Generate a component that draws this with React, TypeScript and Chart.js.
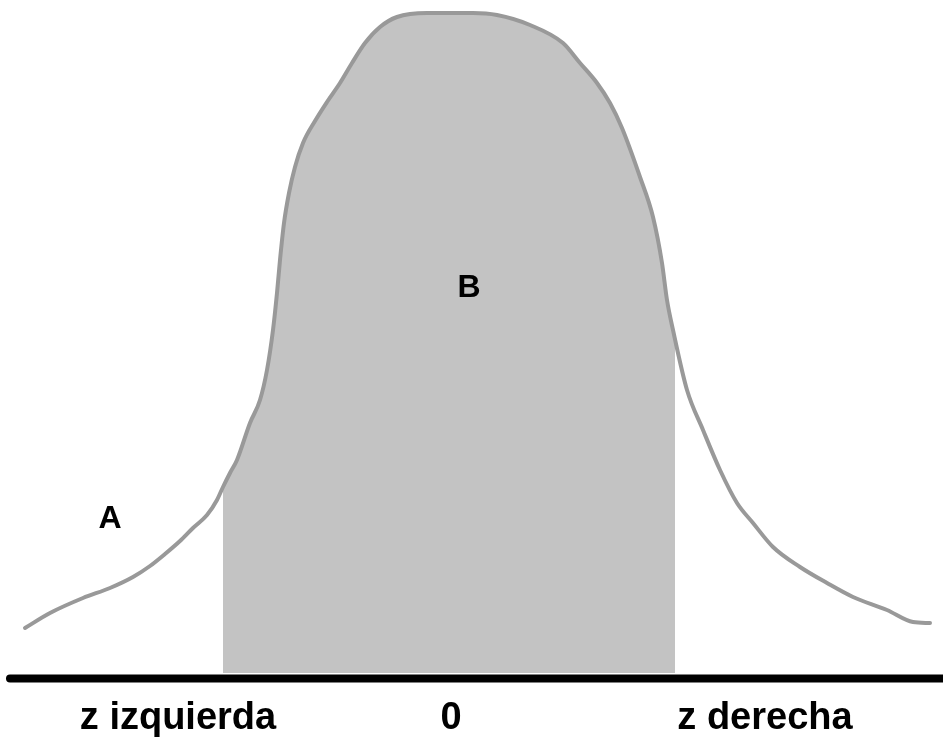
import React, { useEffect, useRef } from "react";
import { Chart, registerables } from "chart.js";

Chart.register(...registerables);

// Bell curve: horizontal position and height above the baseline
const curveX = [25, 50, 83, 110, 133, 150, 165, 180, 193, 207, 217, 223, 230, 237, 250, 260, 267, 273, 277, 280, 284, 289, 295, 303, 315, 327, 340, 352, 365, 380, 397, 427, 473, 497, 530, 563, 580, 597, 610, 622, 640, 653, 662, 667, 673, 687, 703, 720, 737, 753, 773, 800, 827, 853, 887, 913, 930];
const curveH = [45, 60, 75, 85, 96, 107, 119, 132, 145, 158, 173, 186, 200, 213, 250, 273, 303, 343, 380, 413, 450, 480, 506, 530, 552, 571, 590, 610, 630, 646, 656, 660, 660, 658, 648, 630, 610, 590, 570, 545, 496, 456, 410, 373, 343, 283, 243, 203, 170, 150, 126, 106, 90, 76, 63, 51, 50];

// Shaded region bounds (z izquierda .. z derecha)
const zLeft = 223;
const zRight = 675;

// Axis labels and their positions
const tickLabels = ["z izquierda", "0", "z derecha"];
const tickPositions = [178, 451, 765];

// Region labels
const regionLabels = ["A", "B"];
const regionX = [110, 469];
const regionH = [154, 385];

const baselineX = [10, 943];
const baselineH = [-5.5, -5.5];

function interpH(x: number): number {
  for (let i = 0; i < curveX.length - 1; i++) {
    if (x >= curveX[i] && x <= curveX[i + 1]) {
      const t = (x - curveX[i]) / (curveX[i + 1] - curveX[i]);
      return curveH[i] + t * (curveH[i + 1] - curveH[i]);
    }
  }
  return 0;
}

export default function App() {
  const ref = useRef<HTMLCanvasElement | null>(null);
  useEffect(() => {
    if (!ref.current) return;
    const curve = curveX.map((x, i) => ({ x, y: curveH[i] }));
    const shaded = [
      { x: zLeft, y: interpH(zLeft) },
      ...curve.filter((p) => p.x > zLeft && p.x < zRight),
      { x: zRight, y: interpH(zRight) },
    ];
    const baseline = baselineX.map((x, i) => ({ x, y: baselineH[i] }));

    const textPlugin = {
      id: "texts",
      afterDatasetsDraw(chart: any) {
        const { ctx, scales } = chart;
        ctx.save();
        ctx.fillStyle = "#000";
        ctx.textAlign = "center";
        ctx.textBaseline = "alphabetic";
        ctx.font = "bold 38px 'Liberation Sans', Arial, sans-serif";
        tickLabels.forEach((t, i) => {
          ctx.fillText(t, scales.x.getPixelForValue(tickPositions[i]), 729);
        });
        ctx.font = "bold 32px 'Liberation Sans', Arial, sans-serif";
        ctx.textBaseline = "middle";
        regionLabels.forEach((t, i) => {
          ctx.fillText(t, scales.x.getPixelForValue(regionX[i]), scales.y.getPixelForValue(regionH[i]));
        });
        ctx.restore();
      },
    };

    const chart = new Chart(ref.current, {
      type: "line",
      data: {
        datasets: [
          {
            data: baseline,
            borderColor: "#000000",
            borderWidth: 8,
            borderCapStyle: "round",
            pointRadius: 0,
            fill: false,
            order: 3,
          },
          {
            data: shaded,
            borderWidth: 0,
            borderColor: "rgba(0,0,0,0)",
            backgroundColor: "#c3c3c3",
            pointRadius: 0,
            fill: "origin",
            cubicInterpolationMode: "monotone",
            order: 2,
          },
          {
            data: curve,
            borderColor: "#999999",
            borderWidth: 4,
            borderCapStyle: "round",
            pointRadius: 0,
            fill: false,
            cubicInterpolationMode: "monotone",
            order: 1,
          },
        ],
      },
      options: {
        animation: false,
        responsive: false,
        events: [],
        layout: { padding: 0 },
        plugins: { legend: { display: false }, tooltip: { enabled: false } },
        scales: {
          x: { type: "linear", min: 0, max: 943, display: false },
          y: { type: "linear", min: -64, max: 673, display: false },
        },
      },
      plugins: [textPlugin],
    } as any);
    return () => chart.destroy();
  }, []);

  return (
    <div style={{ position: "fixed", left: 0, top: 0, width: 943, height: 737, background: "#fff" }}>
      <canvas ref={ref} width={943} height={737} />
    </div>
  );
}
